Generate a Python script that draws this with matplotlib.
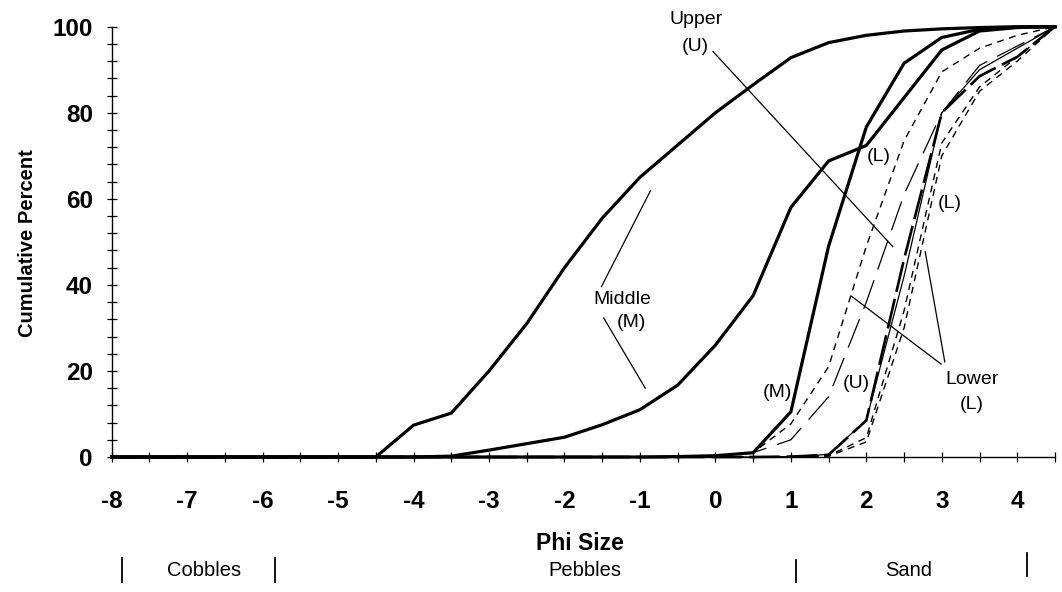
import matplotlib
matplotlib.use("Agg")
import matplotlib.pyplot as plt
from matplotlib import transforms
from matplotlib.ticker import MultipleLocator

plt.rcParams['font.family'] = ['Liberation Sans', 'DejaVu Sans']
plt.rcParams['axes.unicode_minus'] = False
plt.rcParams['lines.scale_dashes'] = False

# ---- data ----
phi = [-8.0, -7.5, -7.0, -6.5, -6.0, -5.5, -5.0, -4.5, -4.0, -3.5, -3.0, -2.5, -2.0,
       -1.5, -1.0, -0.5, 0.0, 0.5, 1.0, 1.5, 2.0, 2.5, 3.0, 3.5, 4.0, 4.5]

middle_a = [0, 0, 0, 0, 0, 0, 0, 0, 7.4, 10.2, 20, 31, 44,
            55.5, 65, 72.5, 80, 86.5, 92.8, 96.3, 98, 99, 99.5, 99.8, 100, 100]
middle_b = [0, 0, 0, 0, 0, 0, 0, 0, 0, 0.2, 1.6, 3.1, 4.6,
            7.5, 11, 16.7, 26, 37.5, 58, 68.8, 72.4, 83.5, 94.6, 99, 99.8, 100]
middle_c = [0, 0, 0, 0, 0, 0, 0, 0, 0, 0, 0, 0, 0,
            0, 0, 0.1, 0.3, 1, 10.5, 49, 76.7, 91.5, 97.5, 99.4, 99.9, 100]
upper_d = [0, 0, 0, 0, 0, 0, 0, 0, 0, 0, 0, 0, 0,
           0, 0, 0.1, 0.3, 1, 7.7, 21, 49, 73.5, 89.5, 95, 98, 100]
upper_e = [0, 0, 0, 0, 0, 0, 0, 0, 0, 0, 0, 0, 0,
           0, 0, 0.1, 0.3, 1, 4, 14, 36, 61, 80, 91, 95.5, 100]
lower_j = [0, 0, 0, 0, 0, 0, 0, 0, 0, 0, 0, 0, 0,
           0, 0, 0, 0, 0, 0.1, 0.6, 8.6, 42, 80, 90, 95, 100]
lower_f = [0, 0, 0, 0, 0, 0, 0, 0, 0, 0, 0, 0, 0,
           0, 0, 0, 0, 0, 0.1, 0.5, 8.5, 46, 80, 88.5, 93, 100]
lower_g = [0, 0, 0, 0, 0, 0, 0, 0, 0, 0, 0, 0, 0,
           0, 0, 0, 0, 0, 0.1, 0.3, 4.5, 34, 73, 86, 93, 100]
lower_h = [0, 0, 0, 0, 0, 0, 0, 0, 0, 0, 0, 0, 0,
           0, 0, 0, 0, 0, 0.1, 0.2, 3.5, 30, 70, 85, 92, 100]

x_tick_labels = ['-8', '-7', '-6', '-5', '-4', '-3', '-2', '-1', '0', '1', '2', '3', '4']
x_tick_values = [-8, -7, -6, -5, -4, -3, -2, -1, 0, 1, 2, 3, 4]
y_tick_values = [0, 20, 40, 60, 80, 100]
size_classes = ['Cobbles', 'Pebbles', 'Sand']

# ---- figure ----
fig = plt.figure(figsize=(10.62, 5.92), dpi=100)
ax = fig.add_axes([0.10518, 0.22804, 0.88823, 0.72686])

thick = 2.3
thin = 0.9

# lower group (dashed)
ax.plot(phi, lower_h, color='k', lw=1.0, dashes=(5, 4), clip_on=False)
ax.plot(phi, lower_g, color='k', lw=1.0, dashes=(5, 4), clip_on=False)
ax.plot(phi, lower_f, color='k', lw=1.9, dashes=(22, 5), clip_on=False)
ax.plot(phi, lower_j, color='k', lw=thin, clip_on=False)
# upper group
ax.plot(phi, upper_e, color='k', lw=thin, dashes=(22, 8), clip_on=False)
ax.plot(phi, upper_d, color='k', lw=1.0, dashes=(5, 4), clip_on=False)
# middle group (thick solid)
for series in (middle_c, middle_b, middle_a):
    ax.plot(phi, series, color='k', lw=thick, clip_on=False, solid_joinstyle='miter')

ax.set_xlim(-8, 4.5)
ax.set_ylim(0, 100)
for s in ('top', 'right'):
    ax.spines[s].set_visible(False)
for s in ('left', 'bottom'):
    ax.spines[s].set_linewidth(1.0)

ax.set_xticks(x_tick_values)
ax.set_xticklabels(x_tick_labels)
ax.xaxis.set_minor_locator(MultipleLocator(0.5))
ax.set_yticks(y_tick_values)
ax.yaxis.set_minor_locator(MultipleLocator(4))
ax.tick_params(which='both', direction='inout', length=7, width=0.9, color='k')
ax.tick_params(axis='x', which='major', labelsize=17.5, pad=20)
ax.tick_params(axis='y', which='major', labelsize=17.5, pad=10)
for lab in ax.get_xticklabels() + ax.get_yticklabels():
    lab.set_fontweight('bold')

# annotation text
afs = 14
ax.text(-0.26, 101.6, 'Upper', fontsize=afs, ha='center', va='center', clip_on=False)
ax.text(-0.26, 95.4, '(U)', fontsize=afs, ha='center', va='center', clip_on=False)
ax.plot([-0.03, 2.35], [94.2, 48.9], color='k', lw=0.9)

ax.text(-1.24, 36.7, 'Middle', fontsize=afs, ha='center', va='center')
ax.text(-1.11, 31.2, '(M)', fontsize=afs, ha='center', va='center')
ax.plot([-0.86, -1.51], [61.9, 39.6], color='k', lw=0.9)
ax.plot([-1.48, -0.93], [32.3, 16.0], color='k', lw=0.9)

ax.text(3.40, 17.9, 'Lower', fontsize=afs, ha='center', va='center')
ax.text(3.40, 12.3, '(L)', fontsize=afs, ha='center', va='center')
ax.plot([1.80, 2.99], [37.4, 21.6], color='k', lw=0.9)
ax.plot([2.78, 3.04], [47.7, 22.1], color='k', lw=0.9)

ax.text(2.16, 69.8, '(L)', fontsize=afs, ha='center', va='center')
ax.text(3.11, 59.0, '(L)', fontsize=afs, ha='center', va='center')
ax.text(0.82, 15.0, '(M)', fontsize=afs, ha='center', va='center')
ax.text(1.87, 17.1, '(U)', fontsize=afs, ha='center', va='center')

# axis titles
fig.text(580 / 1062, 1 - 543 / 592, 'Phi Size', fontsize=16.5, fontweight='bold',
         ha='center', va='center')
fig.text(28 / 1062, 1 - 243 / 592, 'Cumulative Percent', fontsize=14.5, fontweight='bold',
         ha='center', va='center', rotation=90)

# size class labels under the axis
tr = transforms.blended_transform_factory(ax.transData, fig.transFigure)
class_x = [-6.78, -1.73, 2.56]
for name, xc in zip(size_classes, class_x):
    ax.text(xc, 1 - 571 / 592, name, fontsize=14.5, ha='center', va='center',
            transform=tr, clip_on=False)
bar_x = [-7.87, -5.84, 1.07, 4.13]
bar_y = [(558, 582), (558, 582), (560, 582), (553, 576)]
for xb, (y1, y2) in zip(bar_x, bar_y):
    ax.plot([xb, xb], [1 - y1 / 592, 1 - y2 / 592], color='k', lw=1.3,
            transform=tr, clip_on=False)

fig.savefig('out.png', dpi=100)
